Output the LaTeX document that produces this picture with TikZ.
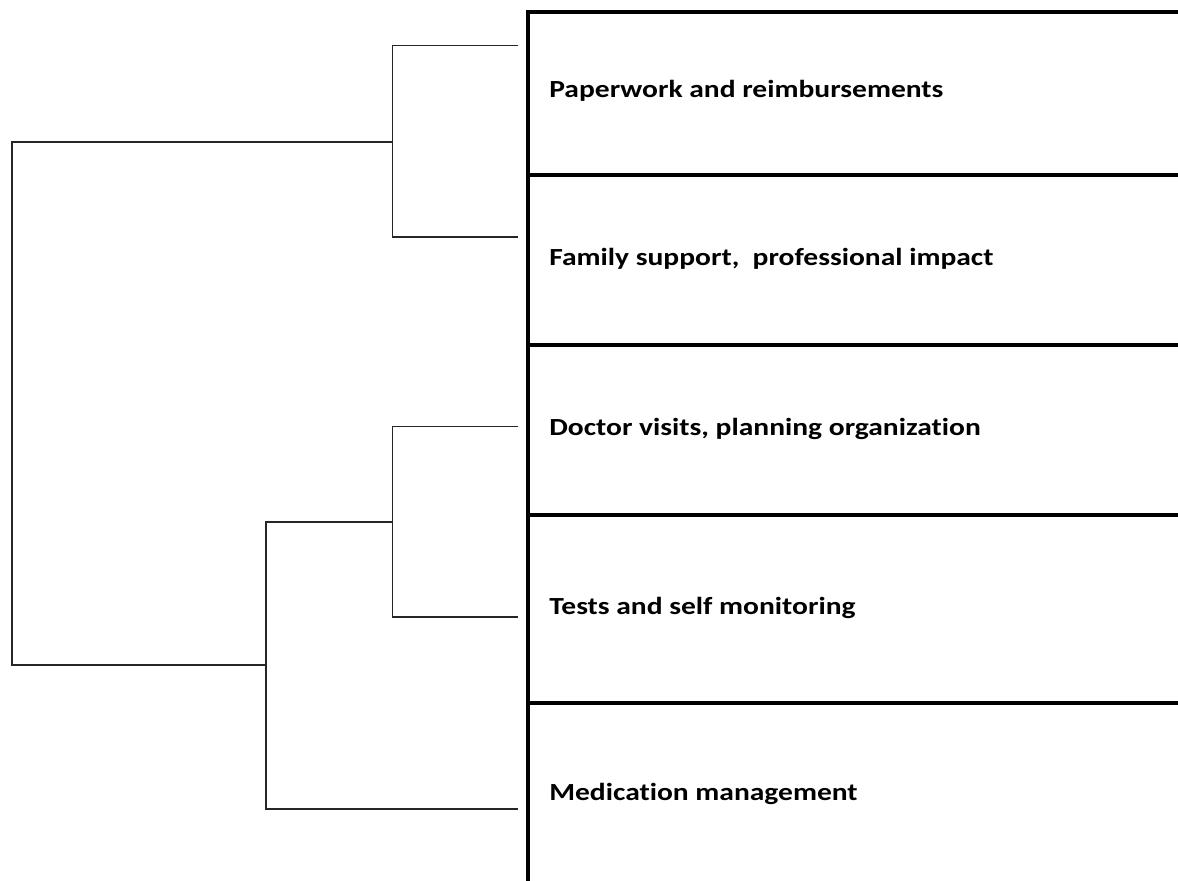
\documentclass[tikz,border=0pt]{standalone}
\usepackage{fontspec}
\setmainfont[FakeStretch=1.2, Ligatures=NoCommon]{Carlito}
\begin{document}
\begin{tikzpicture}[
    x=0.02cm, y=-0.02cm,
    rowlabel/.style={
      anchor=base west,
      inner sep=0pt,
      font=\fontsize{14}{17}\selectfont\bfseries
    },
    rowline/.style={line width=2pt},
    branch/.style={line width=0.9pt, draw=black!85}
  ]
  \useasboundingbox (0,0) rectangle (1178,881);

  % table of clusters
  \draw[rowline] (528,881) -- (528,12) -- (1178,12);
  \draw[rowline] (528,175) -- (1178,175);
  \draw[rowline] (528,345) -- (1178,345);
  \draw[rowline] (528,515) -- (1178,515);
  \draw[rowline] (528,703) -- (1178,703);

  \node[rowlabel] (paperwork) at (549,97.5) {Paperwork and reimbursements};
  \node[rowlabel] (family) at (549,266) {Family support,\ \ professional impact};
  \node[rowlabel] (doctor) at (549,436) {Doctor visits, planning organization};
  \node[rowlabel] (tests) at (549,615) {Tests and self monitoring};
  \node[rowlabel] (medication) at (549,800.5) {Medication management};

  % dendrogram
  \coordinate (leafa) at (518,45.7);
  \coordinate (leafb) at (518,237);
  \coordinate (leafc) at (518,426.7);
  \coordinate (leafd) at (518,617);
  \coordinate (leafe) at (518,809);
  \coordinate (joinab) at (392.7,142);
  \coordinate (joincd) at (392.7,522);
  \coordinate (joincde) at (266,665);
  \coordinate (root) at (12,400);

  \draw[branch] (leafa) -| (joinab) |- (leafb);
  \draw[branch] (leafc) -| (joincd) |- (leafd);
  \draw[branch] (joincd) -| (joincde) |- (leafe);
  \draw[branch] (joinab) -| (root) |- (joincde);
\end{tikzpicture}
\end{document}
